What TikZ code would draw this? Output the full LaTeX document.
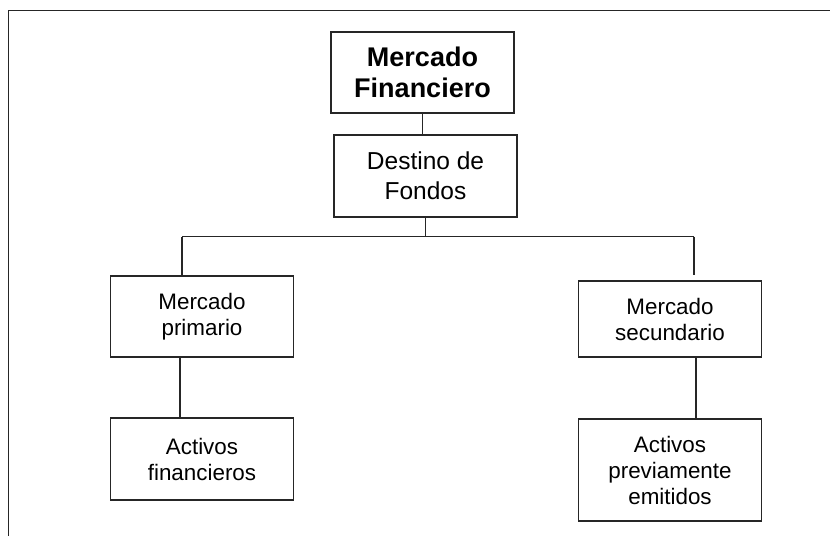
\documentclass[tikz,border=0pt]{standalone}
\usepackage{fontspec}
\setmainfont{Liberation Sans}
\usetikzlibrary{calc}
\tikzset{
  caja/.style={draw=black!85, line width=1.2pt, align=center, inner sep=0pt,
    minimum width=183pt, font=\fontsize{22.4}{26}\selectfont},
  linea/.style={draw=black!85, line width=1.2pt}
}

\begin{document}
\begin{tikzpicture}[x=1pt, y=-1pt]
			%%%%% MARCO %%%%%
			\useasboundingbox (0, 0) rectangle (830, 536);
			\draw[line width=1.5pt, color=black!85] (8.3, 536) -- (8.3, 10.5) -- (830, 10.5);
			
			%%%%% CAJAS %%%%%
			\node[caja, minimum height=81pt, font=\fontsize{27}{31}\selectfont\bfseries] (fin) at (422.5, 72.5) {Mercado\\Financiero};
			\node[caja, minimum height=82pt, font=\fontsize{24.5}{30}\selectfont] (dest) at (425.5, 176) {Destino de\\Fondos};
			
			\node[caja, minimum height=81pt] (prim) at (202, 316.5) {Mercado\\primario};
			\node[caja, minimum height=82pt] (actf) at (202, 459) {Activos\\financieros};
			
			\node[caja, minimum height=76pt] (sec) at (670, 319) {Mercado\\secundario};
			\node[caja, minimum height=102pt] (actp) at (670, 470) {Activos\\previamente\\emitidos};
			
			%%%%% LINEAS %%%%%
			\coordinate (bl) at (182, 236.5);
			\coordinate (br) at (694, 236.5);
			
			\draw[linea] (fin.south) -- (fin.south |- dest.north);
			\draw[linea] (dest.south) -- (dest.south |- bl);
			\draw[linea] (bl) -- (br);
			\draw[linea] (bl) -- (bl |- prim.north);
			\draw[linea] (br) -- ($(br |- sec.north)+(0, -5)$);
			\draw[linea] ($(prim.south -| bl)+(-2, 0)$) -- ($(actf.north -| bl)+(-2, 0)$);
			\draw[linea] ($(sec.south -| br)+(2, 0)$) -- ($(actp.north -| br)+(2, 0)$);
			
			%%%%% FIN %%%%%
\end{tikzpicture}
\end{document}
